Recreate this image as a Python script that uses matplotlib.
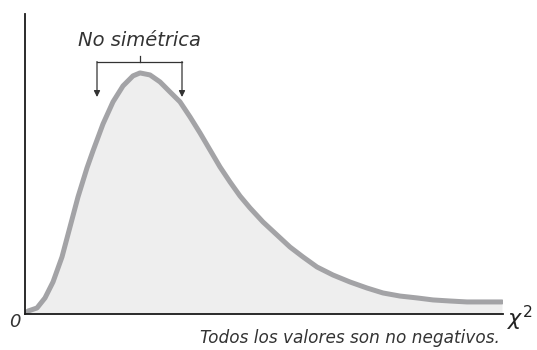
import matplotlib
matplotlib.use("Agg")
import matplotlib.pyplot as plt

# Valores (x = chi cuadrado, y = densidad)
x_vals = [0.00, 0.06, 0.24, 0.40, 0.56, 0.74, 0.90, 1.06, 1.24, 1.36, 1.56, 1.76,
          1.96, 2.16, 2.30, 2.50, 2.70, 2.90, 3.10, 3.30, 3.50, 3.70, 3.90, 4.10,
          4.30, 4.50, 4.76, 5.04, 5.30, 5.56, 5.84, 6.16, 6.50, 6.84, 7.16, 7.50,
          7.84, 8.16, 8.50, 8.84, 9.16, 9.54]
y_vals = [0.0000, 0.0022, 0.0045, 0.0120, 0.0239, 0.0426, 0.0650, 0.0874, 0.1091, 0.1218,
          0.1419, 0.1584, 0.1703, 0.1778, 0.1800, 0.1785, 0.1733, 0.1658, 0.1584, 0.1472,
          0.1352, 0.1225, 0.1098, 0.0986, 0.0881, 0.0792, 0.0687, 0.0590, 0.0500, 0.0426,
          0.0351, 0.0291, 0.0239, 0.0194, 0.0157, 0.0134, 0.0120, 0.0105, 0.0097, 0.0090,
          0.0090, 0.0090]

etiqueta_pico = "No simétrica"
etiqueta_eje = "Todos los valores son no negativos."

fig = plt.figure(figsize=(5.37, 3.5), dpi=100)
ax = fig.add_axes([25/537, 36/350, 478/537, 300/350])

ax.fill_between(x_vals, y_vals, 0, color="#eeeeee", lw=0)
ax.plot(x_vals, y_vals, color="#a3a3a6", lw=3.6, solid_capstyle="round", solid_joinstyle="round")

ax.set_xlim(0, 9.56)
ax.set_ylim(0, 0.224)
ax.set_xticks([])
ax.set_yticks([])
for s in ["top", "right"]:
    ax.spines[s].set_visible(False)
for s in ["left", "bottom"]:
    ax.spines[s].set_linewidth(1.3)
    ax.spines[s].set_color("#1a1a1a")

# Corchete con flechas sobre el pico
col = "#333333"
ax.plot([1.44, 3.14], [0.188, 0.188], color=col, lw=0.9)
ax.plot([2.30, 2.30], [0.188, 0.193], color=col, lw=0.9)
for xa in [1.44, 3.14]:
    ax.annotate("", xy=(xa, 0.162), xytext=(xa, 0.1885),
                arrowprops=dict(arrowstyle="-|>", color=col, lw=0.9,
                                mutation_scale=9, shrinkA=0, shrinkB=0))
ax.text(2.30, 0.2045, etiqueta_pico, ha="center", va="center",
        fontsize=14, style="italic", color="#333333")

fig.text(15/537, 1 - 322/350, "0", ha="center", va="center",
         fontsize=13, style="italic", color="#333333")
fig.text(500/537, 1 - 338/350, etiqueta_eje, ha="right", va="center",
         fontsize=12.2, style="italic", color="#333333")
fig.text(507/537, 1 - 318/350, r"$\chi^2$", ha="left", va="center",
         fontsize=16, color="#222222")

fig.savefig("out.png", dpi=100)
